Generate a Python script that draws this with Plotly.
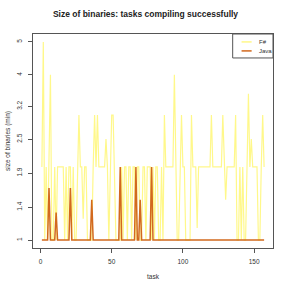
import numpy as np
import plotly.graph_objects as go

tasks = list(range(1, 158))

fsharp = [2, 5, 1, 2, 1, 2, 4, 1, 1, 2,
          1, 2, 2, 2, 2, 2, 1, 2, 1, 2,
          2, 1, 2, 1, 1, 2, 3, 2, 2, 1.25,
          2, 2, 1, 1, 1, 1, 2, 3, 2, 3,
          2, 2, 2, 2, 2, 2.5, 2, 1, 2, 3,
          3, 2, 1, 1, 1, 1, 2, 1, 2, 2,
          1, 2, 2, 1, 2, 2, 1, 2, 2, 1,
          1, 2, 2, 1, 2, 2, 2, 1, 2, 1,
          2, 2, 1, 1, 2, 1, 3, 2, 2, 2,
          2, 2, 2, 4, 2, 1, 1, 2, 3, 2,
          2, 1, 1, 1, 1, 3, 2, 2, 2, 1.14,
          2, 2, 2, 2, 2, 2, 2, 2, 2, 3,
          2, 2, 2, 2, 2, 2, 2, 3, 2, 1.5,
          2, 2, 2, 2, 2, 2, 3, 1, 1, 2,
          1, 2, 1, 1, 2, 3.5, 2, 2.5, 2, 2,
          2, 2, 1, 1, 2, 3, 2]

java = [1] * 157
java_peaks = {6: 1.67, 11: 1.33, 21: 1.67, 36: 1.5, 56: 2, 67: 2, 70: 1.5, 78: 2}
for k, v in java_peaks.items():
    java[k - 1] = v

ytick_labels = ["1", "1.4", "1.9", "2.5", "3.2", "4", "5"]
xtick_vals = [0, 50, 100, 150]

series_names = ["F#", "Java"]
series_colors = ["#FFF88A", "#D2691E"]

fy = np.log1p(np.array(fsharp, dtype=float))
jy = np.log1p(np.array(java, dtype=float))

fig = go.Figure()
fig.add_trace(go.Scatter(x=tasks, y=fy, mode="lines", name=series_names[0],
                         line=dict(color=series_colors[0], width=1.2)))
fig.add_trace(go.Scatter(x=tasks, y=jy, mode="lines", name=series_names[1],
                         line=dict(color=series_colors[1], width=1.5)))

ymin = min(fy.min(), jy.min()); ymax = max(fy.max(), jy.max())
ypad = 0.04 * (ymax - ymin)
xmin, xmax = tasks[0], tasks[-1]
xpad = 0.04 * (xmax - xmin)

font = "Liberation Sans, Arial, sans-serif"
axcol = "#555555"

W = H = 291
L, R, T, B = 33, 18, 34, 43
pw = W - L - R
fig.update_layout(
    width=W, height=H,
    margin=dict(l=L, r=R, t=T, b=B),
    paper_bgcolor="white", plot_bgcolor="white",
    showlegend=False,
    font=dict(family=font, size=6, color="#333333"),
    title=dict(text="<b>Size of binaries: tasks compiling successfully</b>",
               x=0.5, xanchor="center", y=1 - 14 / H, yanchor="middle",
               font=dict(size=8.5, color="#222222", family=font)),
)
fig.update_xaxes(range=[xmin - xpad, xmax + xpad], showgrid=False, zeroline=False,
                 automargin=False,
                 showline=True, mirror=True, linecolor=axcol, linewidth=1,
                 ticks="outside", ticklen=4, tickcolor=axcol, tickwidth=1,
                 tickvals=xtick_vals, ticktext=[str(v) for v in xtick_vals],
                 tickfont=dict(size=6.5, color="#333333"), ticklabelstandoff=3,
                 title=dict(text="task", font=dict(size=6.5, color="#333333"), standoff=10))
fig.update_yaxes(range=[ymin - ypad, ymax + ypad], showgrid=False, zeroline=False,
                 automargin=False,
                 showline=True, mirror=True, linecolor=axcol, linewidth=1,
                 ticks="outside", ticklen=4, tickcolor=axcol, tickwidth=1,
                 tickvals=np.log1p([float(t) for t in ytick_labels]), ticktext=ytick_labels,
                 tickangle=-90, tickfont=dict(size=6.5, color="#333333"), ticklabelstandoff=3)

fig.add_annotation(xref="paper", yref="paper", x=(8 - L) / pw, y=0.5, text="size of binaries (min)",
                   textangle=-90, showarrow=False, xanchor="center", yanchor="middle",
                   font=dict(size=6.5, color="#333333"))

# legend box (manual, R-style)
lx0, lx1, ly0, ly1 = 0.832, 1.0, 0.888, 1.0
fig.add_shape(type="rect", xref="paper", yref="paper", x0=lx0, x1=lx1, y0=ly0, y1=ly1,
              line=dict(color=axcol, width=1), fillcolor="white", layer="above")
for i, (nm, col) in enumerate(zip(series_names, series_colors)):
    yy = 0.963 - i * 0.042
    fig.add_shape(type="line", xref="paper", yref="paper", x0=0.869, x1=0.911, y0=yy, y1=yy,
                  line=dict(color=col, width=1.5), layer="above")
    fig.add_annotation(xref="paper", yref="paper", x=0.933, y=yy, text=nm, showarrow=False,
                       xanchor="left", yanchor="middle", font=dict(size=6, color="#333333"))

fig.write_html("out.html", config={"displayModeBar": False},
               post_script="document.body.style.margin='0';")
